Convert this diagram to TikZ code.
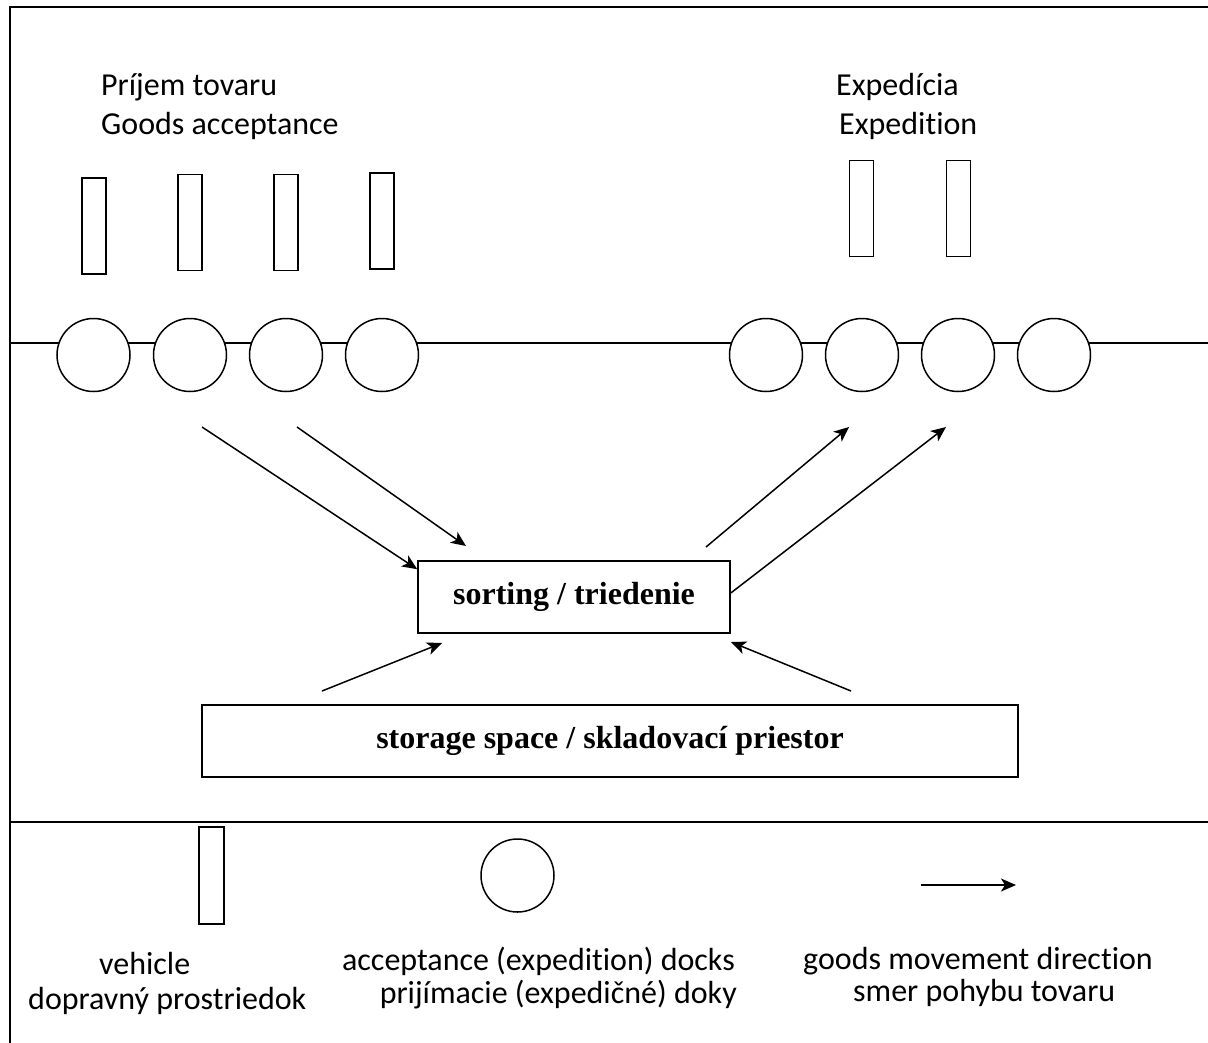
\documentclass[tikz,border=0pt]{standalone}
\usepackage{fontspec}
\setmainfont{Carlito}[Ligatures={NoCommon}]
\newfontfamily\timesfont{Liberation Serif}
\usetikzlibrary{arrows.meta,calc}
\begin{document}
\begin{tikzpicture}[x=1pt,y=-1pt,
  frameline/.style={line width=2pt},
  vehicle/.style={draw, line width=1.5pt, rectangle, minimum width=24pt, minimum height=96pt, inner sep=0pt},
  dock/.style={draw, line width=1.5pt, circle, fill=white, minimum size=73pt, inner sep=0pt},
  lbl/.style={font=\fontsize{32}{38}\selectfont, inner sep=0pt},
  boxlbl/.style={draw, line width=1.6pt, font=\timesfont\bfseries\fontsize{32}{38}\selectfont, inner sep=0pt},
  arr/.style={line width=1.5pt, -{Stealth[length=15pt,width=13pt,inset=4pt]}}
]
\useasboundingbox (0,0) rectangle (1208,1042);
% frame
\coordinate (ftr) at (1210,7);
\coordinate (ftl) at (10,7);
\coordinate (fbl) at (10,1044);
\draw[frameline] (ftr) -- (ftl) -- (fbl);
\coordinate (sepl) at (10,822);
\coordinate (sepr) at (1210,822);
\draw[frameline] (sepl) -- (sepr);
% dock line
\coordinate (dl) at (10,343);
\coordinate (dr) at (1210,343);
\draw[line width=1.5pt] (dl) -- (dr);
% docks
\foreach \x/\n in {93.5/d1,190/d2,286/d3,382/d4,766/d5,862/d6,958/d7,1054/d8}
  \node[dock] (\n) at (\x,355) {};
% vehicles
\node[vehicle] (v1) at (94,226) {};
\node[vehicle] (v2) at (190,222.5) {};
\node[vehicle] (v3) at (286,222.5) {};
\node[vehicle] (v4) at (382,221) {};
\node[vehicle] (v5) at (861.5,208.5) {};
\node[vehicle] (v6) at (958.5,208.5) {};
% top labels
\node[lbl, anchor=base west] (t1) at (101,95) {Príjem tovaru};
\node[lbl, anchor=base west] (t2) at (101,134) {Goods acceptance};
\node[lbl, anchor=base west] (t3) at (836,95) {Expedícia};
\node[lbl, anchor=base west] (t4) at (839,134) {Expedition};
% boxes
\node[boxlbl, minimum width=312pt, minimum height=72pt] (sort) at (574,597) {sorting / triedenie};
\node[boxlbl, minimum width=816pt, minimum height=72pt] (store) at (610,741) {storage space / skladovací priestor};
% arrows
\coordinate (a1s) at (202,427);
\coordinate (a2s) at (297,427);
\coordinate (a2e) at (466,546);
\coordinate (a3s) at (706,547);
\coordinate (a3e) at (849,427);
\coordinate (a4e) at (946,427);
\coordinate (a5s) at (322,691);
\coordinate (a5e) at (442,643);
\coordinate (a6s) at (851,691);
\coordinate (a6e) at (731,642);
\draw[arr] (a1s) -- ($(sort.north west)+(0,9)$);
\draw[arr] (a2s) -- (a2e);
\draw[arr] (a3s) -- (a3e);
\draw[arr] ($(sort.east)+(0,-4)$) -- (a4e);
\draw[arr] (a5s) -- (a5e);
\draw[arr] (a6s) -- (a6e);
% legend
\node[vehicle, minimum height=97pt, minimum width=25pt] (lv) at (211.5,875.5) {};
\node[dock] (ld) at (517.5,875.5) {};
\coordinate (las) at (921,885);
\coordinate (lae) at (1016,885);
\draw[arr] (las) -- (lae);
\node[lbl, anchor=base west] (l1) at (99,974) {vehicle};
\node[lbl, anchor=base west] (l2) at (28,1009) {dopravný prostriedok};
\node[lbl, anchor=base east] (l3) at (735,970) {acceptance (expedition) docks};
\node[lbl, anchor=base east] (l4) at (737,1003) {prijímacie (expedičné) doky};
\node[lbl, anchor=base west] (l5) at (803,969) {goods movement direction};
\node[lbl, anchor=base west] (l6) at (853,1001) {smer pohybu tovaru};
\end{tikzpicture}
\end{document}
